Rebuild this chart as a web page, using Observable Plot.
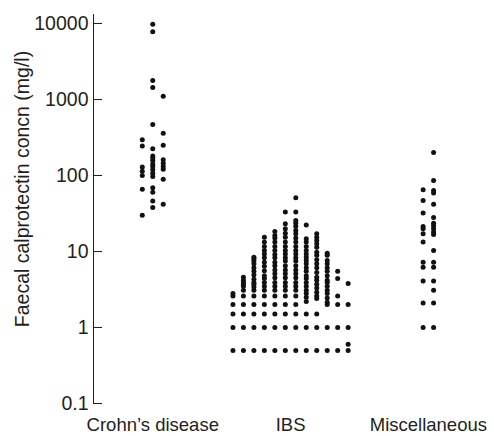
<!DOCTYPE html>
<html><head><meta charset="utf-8">
<script src="https://cdn.jsdelivr.net/npm/d3@7"></script>
<script src="https://cdn.jsdelivr.net/npm/@observablehq/plot@0.6"></script>
<style>
body{margin:0;background:#fff}
#chart svg{display:block}
g[aria-label="y-title"] text{letter-spacing:1.6px}
</style>
</head><body><div id="chart"></div><script>
const categories = ["Crohn\u2019s disease", "IBS", "Miscellaneous"];
const yTicks = [0.1, 1, 10, 100, 1000, 10000];
const yTitle = "Faecal calprotectin concn (mg/l)";

// Crohn's disease: three columns of points (left, middle, right)
const crohnsCols = [
  [295, 245, 129, 114, 100, 66, 30],
  [9800, 7800, 1780, 1440, 470, 225, 180, 170, 158, 142, 131, 119, 107, 97, 69, 60, 46, 38],
  [1100, 360, 250, 161, 145, 131, 121, 89, 42]
];

// IBS: twelve columns of points, left to right
const ibsCols = [
  [0.5, 1, 1.5, 2, 2.6, 2.8],
  [0.5, 1, 1.5, 2, 2.6, 3.1, 3.5, 3.7, 3.9, 4.2, 4.6],
  [0.5, 1, 1.5, 2, 2.6, 3.1, 3.4, 3.7, 3.9, 4.3, 4.9, 5.5, 6.1, 6.9, 7.5, 8, 8.4],
  [0.5, 1, 1.5, 2, 2.6, 3.1, 3.5, 3.9, 4.4, 4.8, 5.6, 6.4, 7.2, 8.3, 9.3, 10.3, 11.6, 13.3, 15.4],
  [0.5, 1, 1.5, 2, 2.6, 3.1, 3.5, 3.9, 4.5, 5.1, 5.7, 6.5, 7.2, 8.3, 9.1, 10.3, 11.6, 13.3, 15.1, 16.2, 18.3],
  [0.5, 1, 1.5, 2, 2.6, 3.1, 3.5, 3.9, 4.5, 5.1, 5.7, 6.5, 7.5, 8.3, 9.3, 10.3, 11.6, 13.3, 15.4, 17.4, 19.9, 23.1, 33],
  [0.5, 1, 1.5, 2, 2.6, 3.1, 3.5, 3.9, 4.5, 5.1, 5.7, 6.5, 7.5, 8.3, 9.3, 10.3, 11.6, 13.3, 15.1, 17.1, 18.9, 21.3, 23.6, 25.6, 33, 51],
  [0.5, 1, 1.5, 2.2, 2.5, 2.8, 3.1, 3.5, 3.9, 4.4, 4.8, 5.5, 6.1, 6.9, 7.6, 8.4, 9.3, 10.3, 11.6, 13.3, 14.7, 22.4],
  [0.5, 1, 1.5, 2.4, 2.6, 2.9, 3.3, 3.7, 4.2, 4.6, 5.3, 6.1, 6.9, 7.8, 8.9, 9.8, 11.4, 12.6, 14, 15.4, 17.1],
  [0.5, 1, 2, 2.15, 2.45, 2.8, 3.1, 3.5, 3.9, 4.2, 4.8, 5.5, 6.1, 6.9, 7.6, 8.9, 9.5],
  [0.5, 1, 2, 2.6, 4.4, 5.5],
  [0.5, 0.6, 1, 2, 3.8]
];

// Miscellaneous: two columns of points
const miscCols = [
  [65, 47, 32, 21.3, 19.9, 17.1, 13.3, 7.2, 6.2, 4.1, 2.1, 1],
  [200, 86, 63.5, 59, 42, 28, 23.6, 21.8, 19.9, 18, 16.7, 10.3, 7.2, 6.2, 4.1, 3.1, 2.1, 1]
];

const colStep = 0.076;
const rows = [];
[crohnsCols, ibsCols, miscCols].forEach((cols, g) => {
  const n = cols.length;
  cols.forEach((col, j) => {
    col.forEach(v => rows.push({group: categories[g], x: g + (j - (n - 1) / 2) * colStep, v}));
  });
});

const xMin = -0.43, xMax = 2.48;
const yMin = 0.1, yMax = 13130;

const chart = Plot.plot({
  width: 494,
  height: 436,
  marginLeft: 93,
  marginRight: 0,
  marginTop: 14,
  marginBottom: 33,
  style: {fontFamily: "'Liberation Sans', Arial, Helvetica, sans-serif", fontSize: "17px", color: "#231f20", background: "#fff"},
  x: {type: "linear", domain: [xMin, xMax]},
  y: {type: "log", domain: [yMin, yMax]},
  marks: [
    Plot.ruleX([xMin], {y1: yMin, y2: yMax, stroke: "#231f20", strokeWidth: 1}),
    Plot.ruleY(yTicks, {y: d => d, x1: xMin, x2: xMin + 9 / 137.5, stroke: "#231f20", strokeWidth: 1}),
    Plot.axisY(yTicks, {tickSize: 0, tickPadding: 5, tickFormat: d => String(d), label: null, fontSize: 19.5}),
    Plot.text([yTitle], {frameAnchor: "left", text: d => d, rotate: -90, dx: -71, dy: -20, textAnchor: "middle", lineAnchor: "middle", fontSize: 19.5, fill: "#231f20", ariaLabel: "y-title"}),
    Plot.axisX([0, 1, 2], {tickSize: 0, tickPadding: 14, tickFormat: i => categories[i], label: null, fontSize: 18.5}),
    Plot.dot(rows, {x: "x", y: "v", r: 2.5, fill: "#111", stroke: "none"})
  ]
});
document.getElementById("chart").appendChild(chart);
</script></body></html>
